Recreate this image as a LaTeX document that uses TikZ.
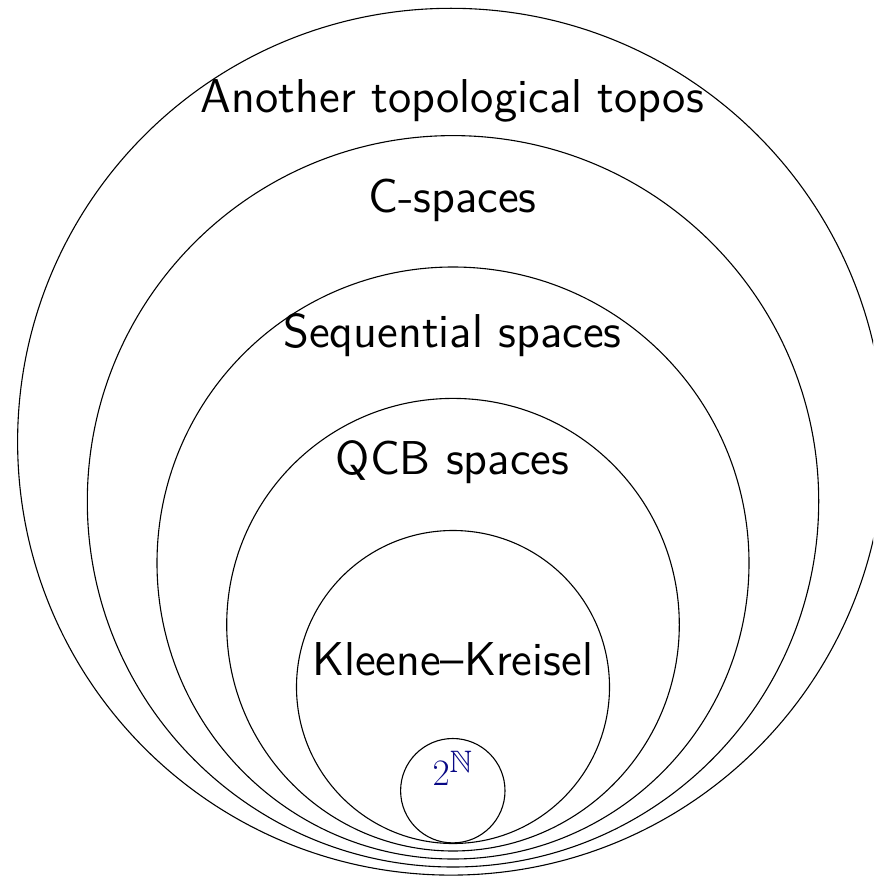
\documentclass[tikz,border=0pt]{standalone}
\usepackage{fix-cm}
\usepackage{amssymb}
\usepackage{fontspec}
\setsansfont{lmsans12-regular}[Extension=.otf]
\DeclareMathSizes{37.3}{37.3}{31}{26}
\tikzset{
  ring/.style={draw=black, line width=1.1pt},
  lbl/.style={anchor=base, inner sep=0pt, font=\sffamily\fontsize{47.5}{57}\selectfont},
}
\definecolor{pointblue}{rgb}{0.03,0.03,0.52}
\begin{document}
\begin{tikzpicture}[x=1pt,y=-1pt]
\useasboundingbox (0,0) rectangle (873,877);
\begin{scope}
\clip (0,0) rectangle (873,877);
\draw[ring] (451,441.7) circle[radius=433.4];
\draw[ring] (453,501.3) circle[radius=365.7];
\draw[ring] (453,563) circle[radius=296];
\draw[ring] (453,624.7) circle[radius=226.3];
\draw[ring] (453,687) circle[radius=156.5];
\draw[ring] (452.8,790.7) circle[radius=52.2];
\end{scope}
\node[lbl] (att) at (452.5,113) {Another topological topos};
\node[lbl] (cs) at (452.5,213) {C-spaces};
\node[lbl] (seq) at (452.5,347) {Sequential spaces};
\node[lbl] (qcb) at (452.5,474) {QCB spaces};
\node[lbl] (kk) at (452.5,675) {Kleene--Kreisel};
\node[anchor=base, inner sep=0pt, text=pointblue, font=\fontsize{37.3}{45}\selectfont] (cantor) at (452.5,785.7) {$2^{\mathbb{N}}$};
\end{tikzpicture}
\end{document}
